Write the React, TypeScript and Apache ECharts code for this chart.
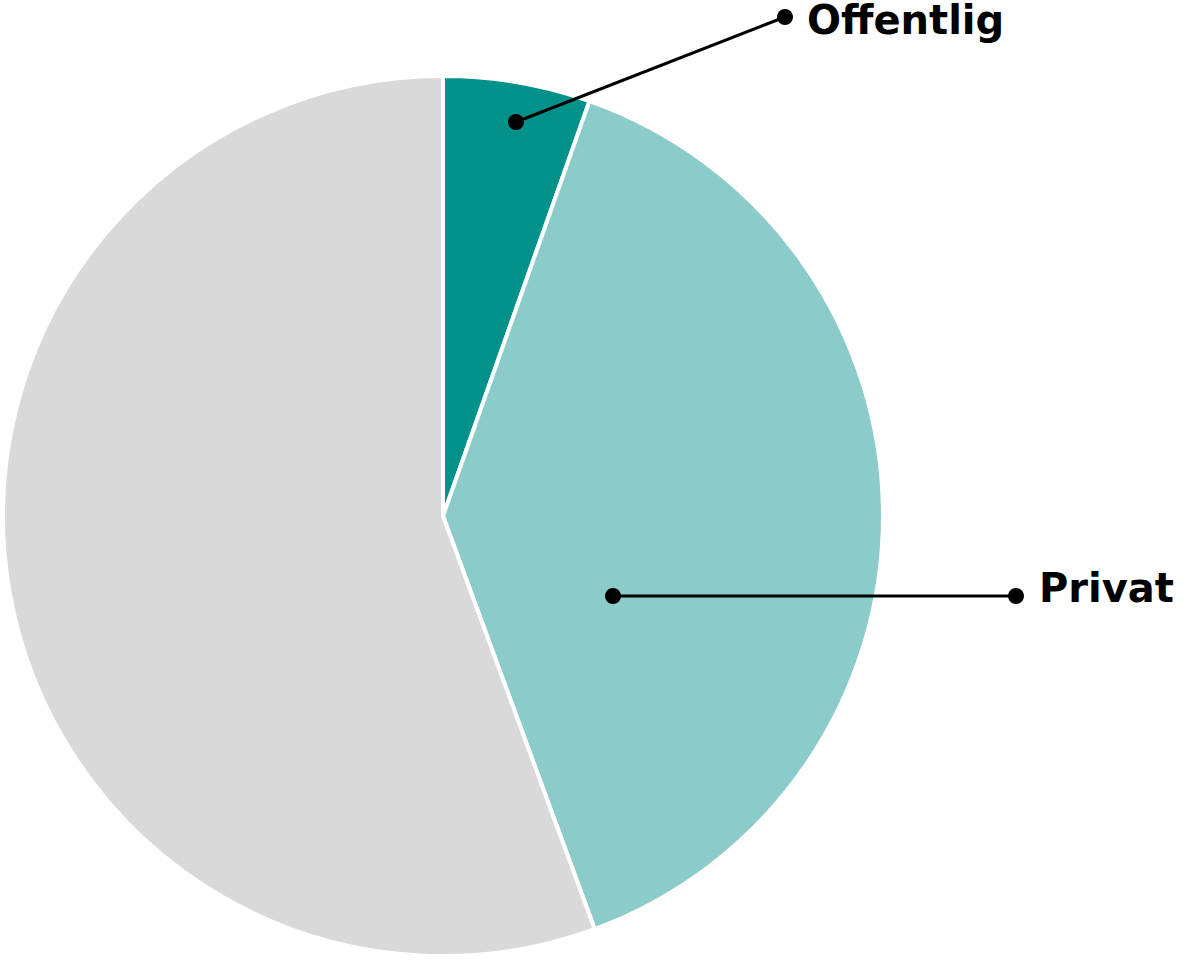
import React, { useEffect, useRef } from "react";
import * as echarts from "echarts";

const categories = ["Offentlig", "Privat", "Øvrig"];
const values = [5.4, 39.0, 55.6];
const colors = ["#00918A", "#8BCBC9", "#D9D9D9"];

export default function App() {
  const ref = useRef<HTMLDivElement>(null);
  useEffect(() => {
    document.body.style.margin = "0";
    const chart = echarts.init(ref.current!, null, { renderer: "svg" });
    const font = "'DejaVu Sans'";
    chart.setOption({
      animation: false,
      series: [
        {
          type: "pie",
          center: [443, 516],
          radius: [0, 440],
          startAngle: 90,
          clockwise: true,
          label: { show: false },
          labelLine: { show: false },
          itemStyle: { borderColor: "#ffffff", borderWidth: 4 },
          emphasis: { disabled: true },
          data: categories.map((c, i) => ({
            name: c,
            value: values[i],
            itemStyle: { color: colors[i] },
          })),
        },
      ],
      graphic: [
        { type: "line", shape: { x1: 516, y1: 122, x2: 785, y2: 17 }, style: { stroke: "#000", lineWidth: 3 }, z: 10 },
        { type: "circle", shape: { cx: 516, cy: 122, r: 8 }, style: { fill: "#000" }, z: 11 },
        { type: "circle", shape: { cx: 785, cy: 17, r: 8 }, style: { fill: "#000" }, z: 11 },
        { type: "text", x: 807, y: 0, style: { text: categories[0], fill: "#000", font: `bold 40px ${font}`, textVerticalAlign: "top", textAlign: "left" }, z: 11 },
        { type: "line", shape: { x1: 613, y1: 596, x2: 1016, y2: 596 }, style: { stroke: "#000", lineWidth: 3 }, z: 10 },
        { type: "circle", shape: { cx: 613, cy: 596, r: 8 }, style: { fill: "#000" }, z: 11 },
        { type: "circle", shape: { cx: 1016, cy: 596, r: 8 }, style: { fill: "#000" }, z: 11 },
        { type: "text", x: 1039, y: 588, style: { text: categories[1], fill: "#000", font: `bold 40px ${font}`, textVerticalAlign: "middle", textAlign: "left" }, z: 11 },
      ],
    });
    return () => chart.dispose();
  }, []);
  return <div ref={ref} style={{ width: 1200, height: 960 }} />;
}
